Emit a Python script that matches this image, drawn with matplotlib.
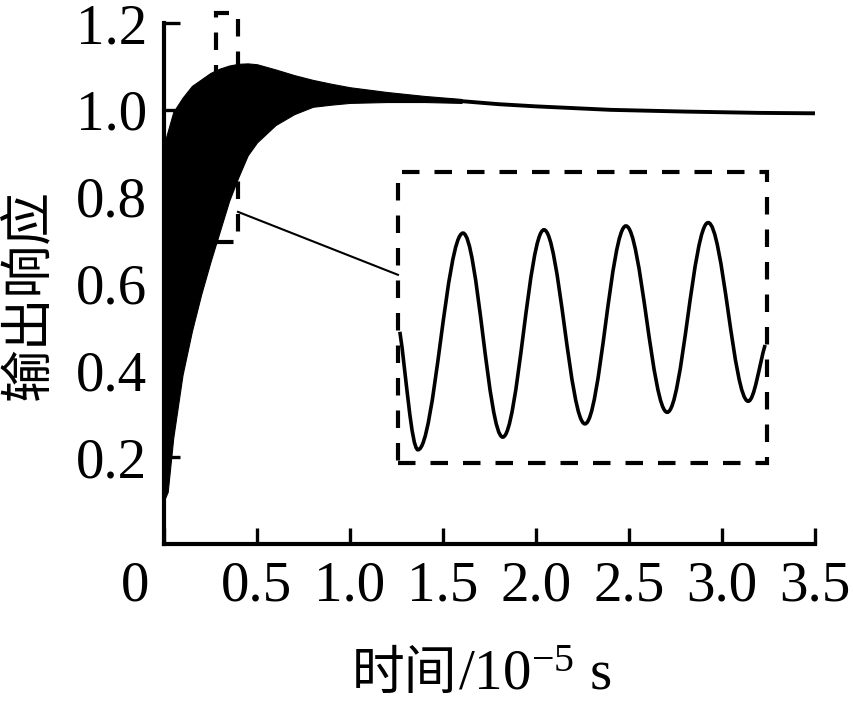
import matplotlib.pyplot as plt
from matplotlib.patches import Rectangle, PathPatch
from matplotlib.path import Path
from matplotlib.transforms import ScaledTranslation

plt.rcParams['font.family'] = ['Liberation Serif', 'Noto Sans CJK SC']
plt.rcParams['mathtext.fontset'] = 'custom'
plt.rcParams['mathtext.rm'] = 'Liberation Serif'
plt.rcParams['mathtext.it'] = 'Liberation Serif:italic'

# envelope of the fast oscillation (time in 1e-5 s)
band_t = [0, 0.02, 0.05, 0.1, 0.15, 0.2, 0.25, 0.3, 0.35, 0.4, 0.45, 0.5,
          0.6, 0.7, 0.8, 0.9, 1.0, 1.2, 1.4, 1.6]
band_upper = [0.92, 0.95, 0.995, 1.028, 1.055, 1.07, 1.085, 1.095, 1.102, 1.106,
              1.107, 1.105, 1.093, 1.08, 1.069, 1.06, 1.052, 1.041, 1.032, 1.025]
band_lower = [0.10, 0.12, 0.245, 0.39, 0.49, 0.575, 0.65, 0.72, 0.79, 0.845,
              0.895, 0.925, 0.965, 0.99, 1.007, 1.012, 1.016, 1.018, 1.018, 1.016]

# settled part of the response
tail_t = [1.2, 1.4, 1.6, 1.8, 2.0, 2.4, 2.8, 3.2, 3.5]
tail_y = [1.029, 1.024, 1.02, 1.013, 1.008, 1.0, 0.996, 0.993, 0.992]

# zoom window and the extrema of the response inside it
zoom_t = (0.280, 0.398)
zoom_y = (0.695, 1.223)
inset_box = (1.258, 0.1866, 3.242, 0.857)
wave_t = [0.2806, 0.2864, 0.3008, 0.3135, 0.3267, 0.3398, 0.3529, 0.3661,
          0.3792, 0.3920, 0.3974]
wave_y = [0.933, 0.719, 1.112, 0.742, 1.118, 0.766, 1.125, 0.787, 1.131,
          0.807, 0.909]

x_ticks = [0, 0.5, 1.0, 1.5, 2.0, 2.5, 3.0, 3.5]
x_labels = ['0', '0.5', '1.0', '1.5', '2.0', '2.5', '3.0', '3.5']
y_ticks = [0.2, 0.4, 0.6, 0.8, 1.0, 1.2]
y_labels = ['0.2', '0.4', '0.6', '0.8', '1.0', '1.2']

fig = plt.figure(figsize=(8.54, 7.10), dpi=100)
ax = fig.add_axes([0.192, 0.2338, 0.7623, 0.7338])

ax.fill_between(band_t, band_lower, band_upper, color='black', lw=0.8, ec='black')
ax.plot(tail_t, tail_y, color='black', lw=2.8, solid_capstyle='butt')

ax.set_xlim(0, 3.5)
ax.set_ylim(0, 1.2)
ax.set_xticks(x_ticks)
ax.set_xticklabels(x_labels)
ax.set_yticks(y_ticks)
ax.set_yticklabels(y_labels)
ax.tick_params(direction='in', length=11.5, width=2.4, labelsize=41)
ax.tick_params(axis='x', pad=12)
ax.tick_params(axis='y', pad=12)
for s in ['top', 'right']:
    ax.spines[s].set_visible(False)
for s in ['left', 'bottom']:
    ax.spines[s].set_linewidth(3)
    ax.spines[s].set_capstyle('projecting')

# the "0" at the corner sits left of the axis
lab0 = ax.get_xticklabels()[0]
lab0.set_transform(lab0.get_transform() + ScaledTranslation(-0.29, 0, fig.dpi_scale_trans))

dash = (0, (4.2, 3.6))
small = Rectangle((zoom_t[0], zoom_y[0]), zoom_t[1] - zoom_t[0], zoom_y[1] - zoom_y[0],
                  fill=False, lw=3, ls=dash, ec='black', clip_on=False, zorder=3)
ax.add_patch(small)
big = Rectangle((inset_box[0], inset_box[1]), inset_box[2] - inset_box[0],
                inset_box[3] - inset_box[1], fill=False, lw=3, ls=dash,
                ec='black', clip_on=False, zorder=3)
ax.add_patch(big)
ax.plot([zoom_t[1], inset_box[0]], [0.765, 0.620], color='black', lw=1.5)

# inset: magnified oscillation, smooth curve through the extrema
ins = ax.inset_axes([inset_box[0], inset_box[1], inset_box[2] - inset_box[0],
                     inset_box[3] - inset_box[1]], transform=ax.transData)
ins.set_xlim(*zoom_t)
ins.set_ylim(*zoom_y)
ins.axis('off')
verts = [(wave_t[0], wave_y[0])]
codes = [Path.MOVETO]
k = 0.36
last = len(wave_t) - 2
for i in range(len(wave_t) - 1):
    x0, y0, x1, y1 = wave_t[i], wave_y[i], wave_t[i + 1], wave_y[i + 1]
    dx, dy = x1 - x0, y1 - y0
    c1 = (x0 + dx / 3, y0 + dy / 3) if i == 0 else (x0 + k * dx, y0)
    c2 = (x1 - dx / 3, y1 - dy / 3) if i == last else (x1 - k * dx, y1)
    verts += [c1, c2, (x1, y1)]
    codes += [Path.CURVE4] * 3
ins.add_patch(PathPatch(Path(verts, codes), fill=False, lw=2.6, ec='black'))

# axis titles
fig.text(0.033, 0.585, '输出响应', rotation=90, ha='center', va='center',
         fontsize=38, family=['Noto Sans CJK SC'])
fig.text(0.536, 0.029, '时间', ha='right', va='baseline',
         fontsize=38, family=['Noto Sans CJK SC'])
fig.text(0.536, 0.029, '/$\\mathregular{10^{-5}}$ s', ha='left', va='baseline',
         fontsize=41, family=['Liberation Serif'])

fig.savefig('out.png', dpi=100)
